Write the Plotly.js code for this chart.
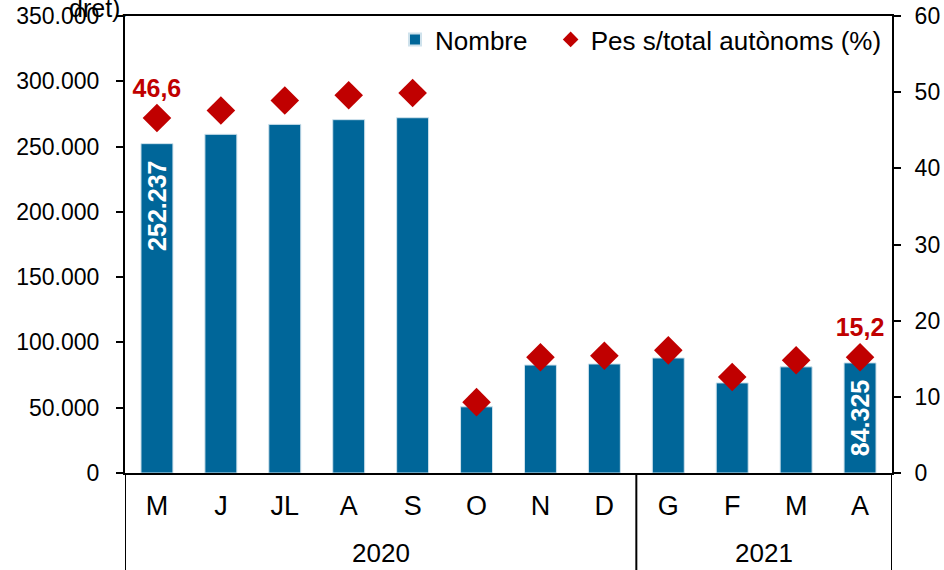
<!DOCTYPE html>
<html>
<head>
<meta charset="utf-8">
<script src="https://cdn.plot.ly/plotly-3.0.1.min.js"></script>
<style>
  html, body { margin: 0; padding: 0; background: #fff; }
  #chart { width: 944px; height: 570px; }
</style>
</head>
<body>
<div id="chart"></div>
<script>
// categories
var years = ['2020', '2020', '2020', '2020', '2020', '2020', '2020', '2020', '2021', '2021', '2021', '2021'];
var months = ['M', 'J', 'JL', 'A', 'S', 'O', 'N', 'D', 'G', 'F', 'M', 'A'];

// series values
var nombre = [252237, 259400, 267000, 270600, 272100, 50700, 82700, 83500, 88100, 69000, 81300, 84325];
var pes = [46.6, 47.6, 48.9, 49.6, 49.9, 9.3, 15.2, 15.4, 16.1, 12.6, 14.8, 15.2];

var last = months.length - 1;
var idx = months.map(function (m, i) { return i; });

// only first and last point get a value label
function edgeLabels(fmt) {
  return months.map(function (m, i) { return (i === 0 || i === last) ? fmt : ''; });
}

// year groups -> label in the middle, divider lines on the edges
var groups = [];
years.forEach(function (y, i) {
  var g = groups[groups.length - 1];
  if (!g || g.year !== y) groups.push({ year: y, start: i, end: i });
  else g.end = i;
});

var annotations = groups.map(function (g) {
  return {
    text: g.year,
    xref: 'x', yref: 'paper',
    x: (g.start + g.end) / 2, xanchor: 'center',
    y: -0.175, yanchor: 'middle',
    showarrow: false,
    font: { size: 26, color: '#000', family: 'Liberation Sans Narrow, Arial Narrow, Liberation Sans, sans-serif' }
  };
});
annotations.push({
  // cut-off end of the source title line
  text: 'dret).',
  xref: 'paper', yref: 'paper',
  x: -0.076, xanchor: 'left',
  y: 0.982, yanchor: 'bottom',
  showarrow: false,
  font: { size: 25, color: '#000' }
});

var shapes = [groups[0].start - 0.5].concat(groups.map(function (g) { return g.end + 0.5; }))
  .map(function (xb) {
    return {
      type: 'line', xref: 'x', yref: 'paper',
      x0: xb, x1: xb, y0: 0, y1: -0.25,
      line: { color: '#000', width: 2 }
    };
  });

var barTrace = {
  type: 'bar',
  name: 'Nombre',
  legend: 'legend',
  x: idx,
  y: nombre,
  yaxis: 'y',
  marker: { color: '#006699', line: { color: '#cfe2ec', width: 1 } },
  texttemplate: edgeLabels('%{y:,}\u00a0\u00a0'),
  textposition: 'inside',
  insidetextanchor: 'end',
  textangle: -90,
  constraintext: 'none',
  textfont: { color: '#ffffff', size: 25, weight: 'bold', family: 'Liberation Sans, Arial, sans-serif' },
  hoverinfo: 'skip'
};

var pesTrace = {
  type: 'scatter',
  mode: 'markers+text',
  name: 'Pes s/total autònoms (%)',
  legend: 'legend2',
  x: idx,
  y: pes,
  yaxis: 'y2',
  marker: { symbol: 'diamond', size: 22, color: '#C00000' },
  texttemplate: edgeLabels('%{y:.1f}'),
  textposition: 'top center',
  textfont: { color: '#C00000', size: 25, weight: 'bold', family: 'Liberation Sans, Arial, sans-serif' },
  cliponaxis: false,
  hoverinfo: 'skip'
};

var legendBase = {
  orientation: 'h',
  y: 1.0, yanchor: 'top',
  bgcolor: 'rgba(0,0,0,0)',
  font: { size: 26 },
  itemsizing: 'constant'
};

var layout = {
  width: 944,
  height: 570,
  margin: { l: 125, r: 52, t: 16, b: 97 },
  paper_bgcolor: 'white',
  plot_bgcolor: 'white',
  separators: ',.',
  font: { family: 'Liberation Sans, Arial, sans-serif', size: 23, color: '#000' },
  bargap: 0.5,
  showlegend: true,
  legend: Object.assign({}, legendBase, { x: 0.352, xanchor: 'left' }),
  legend2: Object.assign({}, legendBase, { x: 0.993, xanchor: 'right' }),
  xaxis: {
    range: [-0.5, last + 0.5],
    tickvals: idx,
    ticktext: months,
    showline: true,
    linecolor: '#000',
    linewidth: 2,
    mirror: true,
    ticks: '',
    showgrid: false,
    zeroline: false,
    ticklabelstandoff: 8,
    tickfont: { family: 'Liberation Sans Narrow, Arial Narrow, Liberation Sans, sans-serif', size: 27 }
  },
  yaxis: {
    range: [0, 350000],
    dtick: 50000,
    tickformat: ',d',
    showgrid: false,
    zeroline: false,
    showline: true,
    linecolor: '#000',
    linewidth: 2,
    ticks: 'outside',
    ticklen: 7,
    tickwidth: 2,
    tickcolor: '#000',
    ticklabelstandoff: 12
  },
  yaxis2: {
    range: [0, 60],
    dtick: 10,
    overlaying: 'y',
    side: 'right',
    showgrid: false,
    zeroline: false,
    showline: true,
    linecolor: '#000',
    linewidth: 2,
    ticks: 'outside',
    ticklen: 7,
    tickwidth: 2,
    tickcolor: '#000',
    ticklabelstandoff: 9
  },
  shapes: shapes,
  annotations: annotations
};

Plotly.newPlot('chart', [barTrace, pesTrace], layout, { staticPlot: true, displayModeBar: false });
</script>
</body>
</html>
